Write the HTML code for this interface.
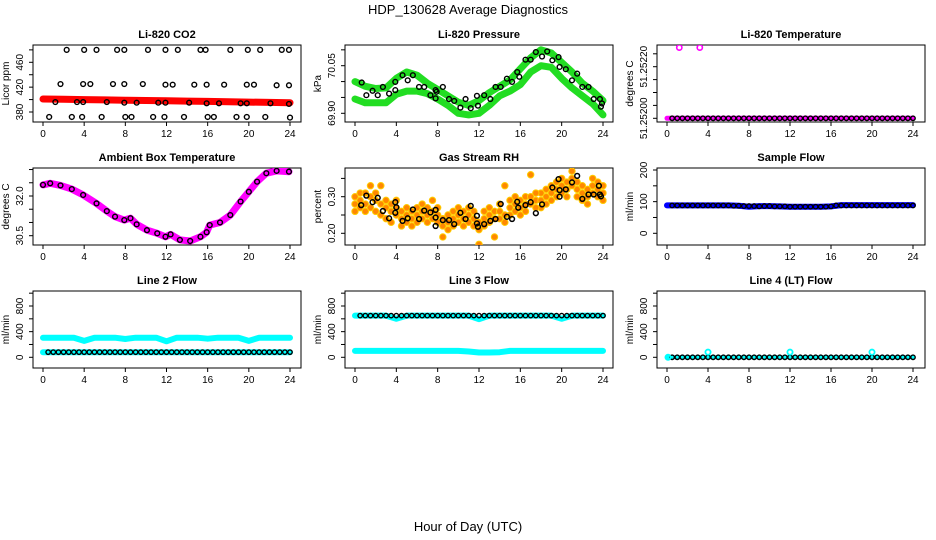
<!DOCTYPE html>
<html><head><meta charset="utf-8"><style>
html,body{margin:0;padding:0;background:#fff;}
svg{display:block;font-family:"Liberation Sans",sans-serif;}
</style></head><body>
<svg id="chart" width="936" height="540" viewBox="0 0 936 540" xmlns="http://www.w3.org/2000/svg">
<text x="468" y="14" text-anchor="middle" font-size="13">HDP_130628  Average Diagnostics</text>
<text x="468" y="531" text-anchor="middle" font-size="13">Hour of Day (UTC)</text>
</svg>
<script>
// ---------- data ----------
const xTicks = [0,4,8,12,16,20,24];
const flatHours = [0.5,1,1.5,2,2.5,3,3.5,4,4.5,5,5.5,6,6.5,7,7.5,8,8.5,9,9.5,10,10.5,11,11.5,12,12.5,13,13.5,14,14.5,15,15.5,16,16.5,17,17.5,18,18.5,19,19.5,20,20.5,21,21.5,22,22.5,23,23.5,24];
const lineHours = [0,1,2,3,4,5,6,7,8,9,10,11,12,13,14,15,16,17,18,19,20,21,22,23,24];

// CO2
const co2RedHours = [0,2,4,6,8,10,12,14,16,18,20,22,24];
const co2RedVals = [401,400.5,400,399.5,399,398.5,398,397.5,397,396.5,396,395.5,395];
const co2Hours = [2.3,4.0,5.2,7.2,7.9,10.2,11.9,13.1,15.3,15.8,18.2,19.9,21.1,23.2,23.9,
 1.7,3.9,4.6,6.8,7.9,9.7,11.9,12.6,14.7,15.9,17.6,19.8,20.5,22.7,23.9,
 1.2,3.3,3.9,6.2,7.9,9.1,11.2,11.9,14.2,15.9,17.1,19.2,19.8,22.1,23.9,
 0.6,2.8,3.8,5.7,8.0,8.6,10.7,11.8,13.7,16.0,16.6,18.8,19.8,21.6,24.0];
const co2Vals = [480,480,480,480,480,480,480,480,480,480,480,480,480,480,480,
 425,425,425,425,425,425,424,424,424,424,424,424,424,423,423,
 396,396,396,396,395,395,395,395,395,394,394,394,394,394,393,
 372,372,372,372,372,372,372,372,372,372,372,372,372,372,371];

// Pressure
const presA = [70.00,69.985,69.978,69.98,70.01,70.03,70.02,69.995,69.975,69.955,69.935,69.925,69.94,69.965,69.985,70.005,70.04,70.075,70.10,70.09,70.06,70.03,69.995,69.97,69.94];
const presB = [69.945,69.933,69.933,69.933,69.96,69.97,69.97,69.962,69.945,69.925,69.90,69.895,69.90,69.925,69.955,69.97,69.99,70.03,70.05,70.045,70.01,69.98,69.955,69.93,69.895];
const presHours = [0.65,1.1,1.7,2.2,2.7,3.3,3.9,3.9,4.6,5.1,5.6,6.2,6.7,7.3,7.8,7.8,7.9,8.5,9.1,9.6,10.2,10.7,11.2,11.8,11.9,12.5,13.1,13.6,14.1,14.7,15.2,15.7,15.9,16.5,17,17.5,18.1,18.6,19.1,19.7,19.8,20.4,21,21.5,22,22.6,23.1,23.7,23.8,23.9];
const presVals = [69.997,69.957,69.971,69.957,69.983,69.962,69.999,69.973,70.02,70.004,70.02,69.983,69.983,69.957,69.973,69.947,69.968,69.983,69.945,69.939,69.918,69.945,69.916,69.955,69.924,69.957,69.945,69.983,69.983,70.009,69.999,70.03,70.015,70.069,70.069,70.093,70.079,70.095,70.067,70.077,70.046,70.039,70.004,70.025,69.983,69.983,69.945,69.945,69.921,69.931];

// Li-820 temperature
const tempLineVals = [51.252,51.252,51.252,51.252,51.252,51.252,51.252,51.252,51.252,51.252,51.252,51.252,51.252,51.252,51.252,51.252,51.252,51.252,51.252,51.252,51.252,51.252,51.252,51.252,51.252];
const tempOutHours = [1.2,3.2];
const tempOutVals = [51.252274,51.252274];
const tempCircleVals = flatHours.map(() => 51.252);

// Ambient box temperature
const ambHours = [0,0.7,1.7,2.8,3.9,5.2,6.2,7,7.9,8.5,9.1,10.1,11.1,11.9,12.4,13.3,14.3,15.3,15.9,16.2,17.2,18.2,19.2,20,20.8,21.7,22.7,23.9];
const ambVals = [32.42,32.48,32.4,32.26,32.04,31.72,31.43,31.22,31.09,31.16,30.93,30.71,30.59,30.46,30.55,30.34,30.3,30.46,30.63,30.9,31.0,31.28,31.79,32.16,32.54,32.86,32.95,32.92];

// Gas stream RH
const rhOHours = [0,0.5,1,1.5,2,2.5,3,3.5,4,4.5,5,5.5,6,6.5,7,7.5,8,8.5,9,9.5,10,10.5,11,11.5,12,12.5,13,13.5,14,14.5,15,15.5,16,16.5,17,17.5,18,18.5,19,19.5,20,20.5,21,21.5,22,22.5,23,23.5,24];
const rhOMid = [.28,.29,.31,.30,.29,.25,.27,.26,.27,.24,.25,.24,.25,.26,.25,.24,.25,.24,.23,.24,.25,.24,.23,.24,.23,.24,.25,.24,.26,.25,.27,.26,.27,.28,.28,.27,.29,.30,.31,.32,.33,.32,.33,.34,.31,.32,.31,.32,.31];
const rhOLow = [.30,.27,.28,.27,.31,.28,.24,.23,.25,.22,.23,.26,.23,.24,.27,.26,.23,.22,.25,.22,.23,.22,.25,.22,.21,.26,.23,.26,.28,.23,.25,.28,.29,.30,.30,.29,.31,.32,.33,.30,.31,.34,.35,.32,.33,.30,.33,.30,.29];
const rhOHigh = [.26,.31,.26,.33,.26,.33,.29,.28,.29,.26,.27,.22,.27,.28,.23,.29,.27,.19,.21,.26,.27,.26,.27,.26,.17,.22,.27,.19,.24,.33,.29,.30,.25,.26,.36,.31,.27,.28,.29,.34,.35,.30,.37,.30,.29,.28,.35,.34,.33];
const rhHours = [0.6,1.1,1.7,2.2,2.7,3.3,3.9,3.9,4,4.6,5.1,5.6,6.2,6.7,7.3,7.8,7.8,7.8,8.5,9.1,9.6,10.2,10.7,11.2,11.8,11.8,11.9,12.5,13.1,13.6,14.1,14.7,15.2,15.7,15.8,16.5,17,17.5,18.1,19.1,19.7,19.8,19.8,20.4,21,21.5,22,22.6,23.1,23.6,23.7,23.8];
const rhVals = [.277,.303,.285,.297,.261,.241,.285,.256,.271,.234,.241,.265,.239,.262,.257,.264,.243,.220,.236,.236,.225,.256,.239,.275,.248,.227,.218,.225,.234,.239,.280,.245,.239,.286,.270,.277,.285,.255,.279,.325,.348,.318,.300,.320,.339,.357,.294,.306,.306,.330,.306,.301];

// Sample flow
const sampleLineVals = [88,88,88,88,88,88,88,87,84,86,86,85,84,84,84,84,85,89,89,89,89,89,89,89,89];
const sampleCircleVals = [88,88,88,88,88,88,88,88,88,88,88,88,87,87,86,86,86,85,86,86,85,85,85,84,84,84,84,84,84,84,84,85,88,88,88,88,88,88,88,88,88,88,88,88,88,88,88,88];

// Line 2 flow
const l2TopVals = [305,305,305,305,255,305,305,305,285,305,305,305,250,305,305,305,290,305,305,305,255,305,305,305,305];
const l2BotVals = [80,80,80,80,80,80,80,80,80,80,80,80,80,80,80,80,80,80,80,80,80,80,80,80,80];
const l2CircleVals = flatHours.map(() => 80);

// Line 3 flow
const l3TopVals = [650,650,650,650,600,650,650,650,650,650,650,650,595,650,650,650,650,650,650,650,600,650,650,650,650];
const l3BotVals = [100,100,100,100,100,100,100,100,100,100,100,90,75,75,80,100,100,100,100,100,100,100,100,100,100];
const l3CircleVals = flatHours.map(() => 650);

// Line 4 flow
const l4LineVals = [0,0,0,0,0,0,0,0,0,0,0,0,0,0,0,0,0,0,0,0,0,0,0,0,0];
const l4SpikeHours = [0.1,4,12,20];
const l4SpikeVals = [0,80,80,80];
const l4CircleVals = flatHours.map(() => 0);

// ---------- drawing ----------
const NS = 'http://www.w3.org/2000/svg';
const svg = document.getElementById('chart');
function el(tag, attrs, parent) {
  const e = document.createElementNS(NS, tag);
  for (const k in attrs) e.setAttribute(k, attrs[k]);
  (parent || svg).appendChild(e);
  return e;
}
function makeScale(v1, p1, v2, p2) { return v => p1 + (v - v1) * (p2 - p1) / (v2 - v1); }

const cols = [[33,301,43,290],[345,613,355,603],[657,925,667,913]];
const rows = [[45,122],[168,245],[291,368]];

function panel(name, title, ylabel, c, r, yref, ticks, labels, labFmt) {
  const [bx0,bx1,x0,x24] = cols[c];
  const [by0,by1] = rows[r];
  const g = el('g', {});
  
  
  const xs = makeScale(0, x0, 24, x24);
  const ys = makeScale(yref[0], yref[1], yref[2], yref[3]);
  const clipId = 'clip-' + name;
  const cp = el('clipPath', {id: clipId}, g);
  el('rect', {x: bx0, y: by0, width: bx1 - bx0, height: by1 - by0}, cp);
  const box = el('rect', {x: bx0, y: by0, width: bx1 - bx0, height: by1 - by0, fill: 'none', stroke: '#000', 'stroke-width': 1}, g);
  
  
  const t = el('text', {x: (bx0 + bx1) / 2, y: by0 - 7, 'text-anchor': 'middle', 'font-size': 11, 'font-weight': 'bold'}, g);
  t.textContent = title;
  
  
  // x axis
  const xa = el('g', {}, g);
  
  
  xTicks.forEach(h => {
    el('line', {x1: xs(h), x2: xs(h), y1: by1, y2: by1 + 4, stroke: '#000'}, xa);
    const tl = el('text', {x: xs(h), y: by1 + 15, 'text-anchor': 'middle', 'font-size': 10}, xa);
    tl.textContent = h;
    
    
  });
  // y axis
  const ya = el('g', {}, g);
  
  
  ticks.forEach(v => {
    el('line', {x1: bx0 - 4, x2: bx0, y1: ys(v), y2: ys(v), stroke: '#000'}, ya);
  });
  labels.forEach(v => {
    const lx = bx0 - 10;
    const tl = el('text', {x: lx, y: ys(v), 'text-anchor': 'middle', 'font-size': 10, transform: 'rotate(-90 ' + lx + ' ' + ys(v) + ')'}, ya);
    tl.textContent = labFmt(v);
    
    
  });
  const ax = bx0 - 24, ay = (by0 + by1) / 2;
  const yt = el('text', {x: ax, y: ay, 'text-anchor': 'middle', 'font-size': 10, transform: 'rotate(-90 ' + ax + ' ' + ay + ')'}, g);
  yt.textContent = ylabel;
  
  
  const plot = el('g', {'clip-path': 'url(#' + clipId + ')'}, g);
  return {xs, ys, plot};
}
function line(p, hours, vals, color, w, nm) {
  const pts = hours.map((h, i) => p.xs(h).toFixed(1) + ',' + p.ys(vals[i]).toFixed(1)).join(' ');
  const l = el('polyline', {points: pts, fill: 'none', stroke: color, 'stroke-width': w, 'stroke-linejoin': 'round', 'stroke-linecap': 'round'}, p.plot);
  
  
}
function circles(p, hours, vals, stroke, fill, r, sw, nm) {
  hours.forEach((h, i) => {
    const ci = el('circle', {cx: p.xs(h), cy: p.ys(vals[i]), r: r, fill: fill, stroke: stroke, 'stroke-width': sw}, p.plot);
    
    
  });
}
const f0 = v => String(v);

// 1 CO2
let p = panel('co2', 'Li-820 CO2', 'Licor ppm', 0, 0, [380,112,460,62.3], [380,400,420,440,460,480], [380,420,460], f0);
line(p, co2RedHours, co2RedVals, '#ff0000', 7, 'co2-red-series');
circles(p, co2Hours, co2Vals, '#000', 'none', 2.4, 1.4, 'co2-point');

// 2 Pressure
p = panel('pressure', 'Li-820 Pressure', 'kPa', 1, 0, [69.90,113.3,70.05,65.7], [69.90,69.95,70.00,70.05,70.10], [69.90,70.05], v => v.toFixed(2));
line(p, lineHours, presB, '#22dd22', 7, 'pressure-green-lower');
line(p, lineHours, presA, '#22dd22', 7, 'pressure-green-upper');
circles(p, presHours, presVals, '#000', 'none', 2.4, 1.4, 'pressure-point');

// 3 Li-820 Temperature
p = panel('li820-temp', 'Li-820 Temperature', 'degrees C', 2, 0, [51.25200,118.3,51.25220,66.7], [51.25200,51.25205,51.25210,51.25215,51.25220,51.25225], [51.25200,51.25220], v => v.toFixed(5));
line(p, lineHours, tempLineVals, '#ff00ff', 5, 'temp-magenta-series');
circles(p, flatHours, tempCircleVals, '#000', 'none', 2.2, 1.4, 'temp-point');
circles(p, tempOutHours, tempOutVals, '#ff00ff', 'none', 2.6, 1.6, 'temp-outlier');

// 4 Ambient
p = panel('ambient-temp', 'Ambient Box Temperature', 'degrees C', 0, 1, [30.5,235.7,32.0,196], [30.5,31.0,31.5,32.0,32.5,33.0], [30.5,32.0], v => v.toFixed(1));
line(p, ambHours, ambVals, '#ff00ff', 7, 'ambient-magenta-series');
circles(p, ambHours, ambVals, '#000', 'none', 2.4, 1.4, 'ambient-point');

// 5 RH
p = panel('gas-rh', 'Gas Stream RH', 'percent', 1, 1, [0.20,233.3,0.30,196.7], [0.20,0.25,0.30,0.35], [0.20,0.30], v => v.toFixed(2));
circles(p, rhOHours, rhOLow, '#ffcc00', '#ff8800', 3.2, 1, 'rh-orange-point');
circles(p, rhOHours, rhOHigh, '#ffcc00', '#ff8800', 3.2, 1, 'rh-orange-point');
circles(p, rhOHours, rhOMid, '#ffcc00', '#ff8800', 3.2, 1, 'rh-orange-point');
circles(p, rhHours, rhVals, '#000', 'none', 2.4, 1.5, 'rh-point');

// 6 Sample flow
p = panel('sample-flow', 'Sample Flow', 'ml/min', 2, 1, [0,233.3,200,170], [0,50,100,150,200], [0,100,200], f0);
line(p, lineHours, sampleLineVals, '#0000ff', 6, 'sample-blue-series');
circles(p, flatHours, sampleCircleVals, '#000', 'none', 2.2, 1.4, 'sample-point');

// 7 Line 2
const flowTicks = [0,200,400,600,800,1000];
const flowLabels = [0,400,800];
p = panel('line2-flow', 'Line 2 Flow', 'ml/min', 0, 2, [0,357.3,800,306], flowTicks, flowLabels, f0);
line(p, lineHours, l2TopVals, '#00ffff', 6, 'line2-cyan-top');
line(p, lineHours, l2BotVals, '#00ffff', 6, 'line2-cyan-bottom');
circles(p, flatHours, l2CircleVals, '#000', 'none', 2.2, 1.4, 'line2-point');

// 8 Line 3
p = panel('line3-flow', 'Line 3 Flow', 'ml/min', 1, 2, [0,357.3,800,306], flowTicks, flowLabels, f0);
line(p, lineHours, l3TopVals, '#00ffff', 6, 'line3-cyan-top');
line(p, lineHours, l3BotVals, '#00ffff', 6, 'line3-cyan-bottom');
circles(p, flatHours, l3CircleVals, '#000', 'none', 2.2, 1.4, 'line3-point');

// 9 Line 4
p = panel('line4-flow', 'Line 4 (LT) Flow', 'ml/min', 2, 2, [0,357.3,800,306], flowTicks, flowLabels, f0);
line(p, lineHours, l4LineVals, '#00ffff', 4, 'line4-cyan-series');
circles(p, flatHours, l4CircleVals, '#000', 'none', 2.2, 1.4, 'line4-point');
circles(p, l4SpikeHours, l4SpikeVals, '#00ffff', 'none', 2.6, 1.8, 'line4-cyan-spike');
</script>
</body></html>
